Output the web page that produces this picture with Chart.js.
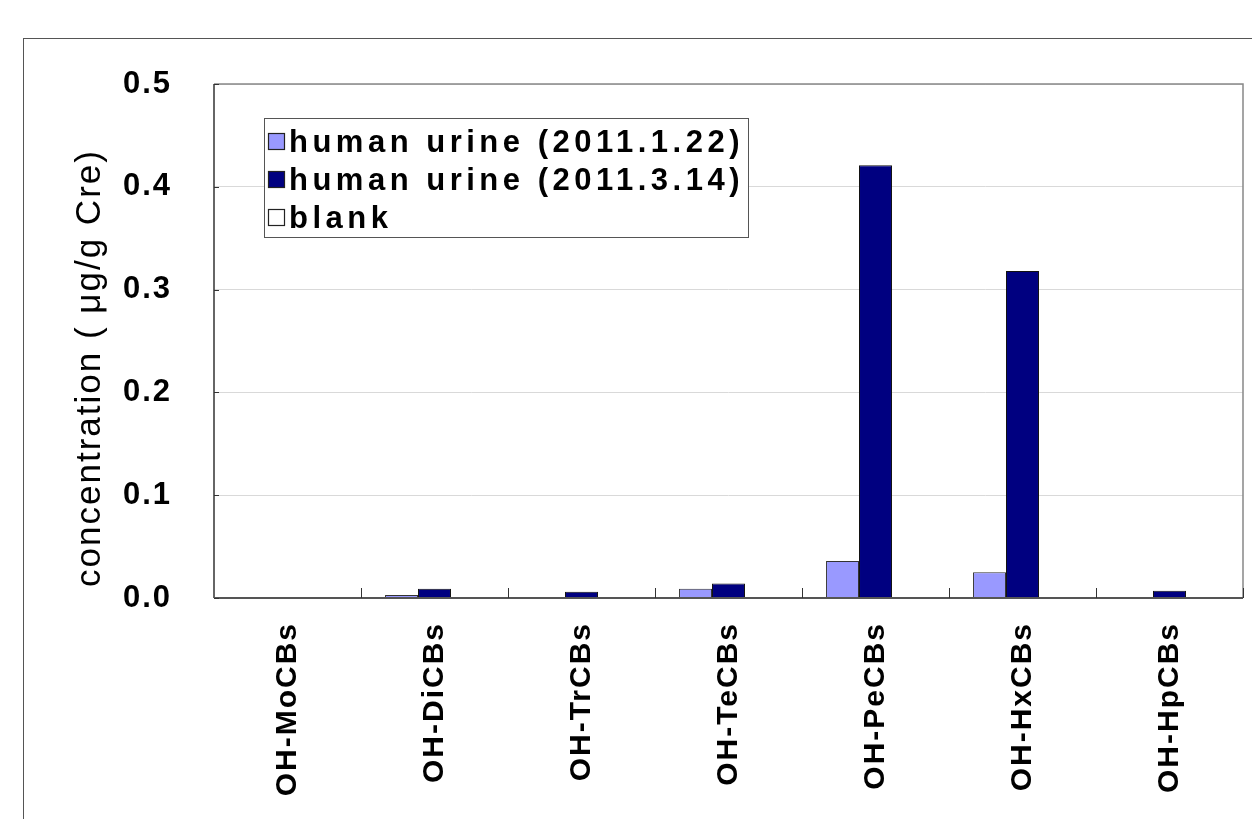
<!DOCTYPE html>
<html>
<head>
<meta charset="utf-8">
<script src="https://cdn.jsdelivr.net/npm/chart.js@4/dist/chart.umd.min.js"></script>
<style>
  html, body { margin: 0; padding: 0; background: #fff; }
  canvas { display: block; }
</style>
</head>
<body>
<canvas id="urineChart" width="1252" height="819"></canvas>
<script>
/*----------------------------------------------------------------*/
const categories = ['OH-MoCBs', 'OH-DiCBs', 'OH-TrCBs', 'OH-TeCBs', 'OH-PeCBs', 'OH-HxCBs', 'OH-HpCBs'];
const urineJan = [0, 0.003, 0, 0.009, 0.036, 0.025, 0];
const urineMar = [0, 0.009, 0.006, 0.014, 0.421, 0.318, 0.007];
const blank = [0, 0, 0, 0, 0, 0, 0];
const seriesLabels = ['human urine (2011.1.22)', 'human urine (2011.3.14)', 'blank'];
const yTicks = [0, 0.1, 0.2, 0.3, 0.4, 0.5];
const yTitle = 'concentration ( μg/g Cre)';

const FONT = '"Liberation Sans", Arial, sans-serif';

/*----------------------------------------------------------------*/
// frame, plot borders, inner tick marks, y title and the boxed legend
const frameAndLegend = {
    id: 'frameAndLegend',
    beforeDraw(chart) {
        // wider spacing for the tick labels drawn by the scales
        chart.ctx.letterSpacing = '2px';
    },
    afterDraw(chart) {
        const { ctx, chartArea: a, scales } = chart;
        ctx.save();

        // outer frame
        ctx.strokeStyle = '#555';
        ctx.lineWidth = 1;
        ctx.strokeRect(23.5, 38.5, 1400, 1000);

        // top and right border
        ctx.strokeStyle = '#888';
        ctx.lineWidth = 1.5;
        ctx.beginPath();
        ctx.moveTo(a.left, a.top);
        ctx.lineTo(a.right, a.top);
        ctx.lineTo(a.right, a.bottom);
        ctx.stroke();

        // axes
        ctx.strokeStyle = '#333';
        ctx.lineWidth = 1.5;
        ctx.beginPath();
        ctx.moveTo(a.left, a.top);
        ctx.lineTo(a.left, a.bottom);
        ctx.stroke();
        ctx.strokeStyle = '#555';
        ctx.lineWidth = 2;
        ctx.beginPath();
        ctx.moveTo(a.left, a.bottom);
        ctx.lineTo(a.right, a.bottom);
        ctx.stroke();

        // inner ticks
        ctx.strokeStyle = '#333';
        ctx.lineWidth = 1;
        const n = categories.length;
        const w = (a.right - a.left) / n;
        for (let i = 1; i <= n; i++) {
            const x = Math.round(a.left + i * w) + 0.5;
            ctx.beginPath();
            ctx.moveTo(x, a.bottom);
            ctx.lineTo(x, a.bottom - 10);
            ctx.stroke();
        }
        yTicks.forEach(v => {
            const y = Math.round(scales.y.getPixelForValue(v)) + 0.5;
            ctx.beginPath();
            ctx.moveTo(a.left, y);
            ctx.lineTo(a.left + 5, y);
            ctx.stroke();
        });

        // y title
        ctx.save();
        ctx.translate(90, 368);
        ctx.rotate(-Math.PI / 2);
        ctx.font = '35px ' + FONT;
        ctx.letterSpacing = '2px';
        ctx.fillStyle = '#000';
        ctx.textAlign = 'center';
        ctx.textBaseline = 'middle';
        ctx.fillText(yTitle, 0, 0);
        ctx.restore();

        // legend
        const lx = 264, ly = 118, lw = 484, lh = 119;
        ctx.fillStyle = '#fff';
        ctx.fillRect(lx, ly, lw, lh);
        ctx.strokeStyle = '#555';
        ctx.lineWidth = 1;
        ctx.strokeRect(lx + 0.5, ly + 0.5, lw, lh);
        ctx.font = 'bold 31px ' + FONT;
        ctx.letterSpacing = '4.5px';
        ctx.textBaseline = 'middle';
        chart.data.datasets.forEach((ds, i) => {
            const cy = ly + 24 + i * 38;
            ctx.fillStyle = ds.backgroundColor;
            ctx.fillRect(268, cy - 9, 17, 17);
            ctx.strokeStyle = '#222';
            ctx.lineWidth = 1.2;
            ctx.strokeRect(268.5, cy - 8.5, 16, 16);
            ctx.fillStyle = '#000';
            ctx.fillText(ds.label, 289, cy + 1);
        });
        ctx.restore();
    }
};

/*----------------------------------------------------------------*/
new Chart(document.getElementById('urineChart'), {
    type: 'bar',
    data: {
        labels: categories,
        datasets: [
            { label: seriesLabels[0], data: urineJan, backgroundColor: '#9999ff', borderColor: '#333', borderWidth: 1 },
            { label: seriesLabels[1], data: urineMar, backgroundColor: '#000080', borderColor: '#111', borderWidth: 1 },
            { label: seriesLabels[2], data: blank, backgroundColor: '#ffffff', borderColor: '#111', borderWidth: 1 }
        ]
    },
    options: {
        responsive: false,
        animation: false,
        categoryPercentage: 0.673,
        barPercentage: 1,
        layout: {
            padding: { left: 0, top: 84, right: 9, bottom: 0 }
        },
        plugins: {
            legend: { display: false },
            tooltip: { enabled: false }
        },
        scales: {
            x: {
                grid: { display: false },
                border: { display: false },
                ticks: {
                    color: '#000',
                    minRotation: 90,
                    maxRotation: 90,
                    padding: 16,
                    font: { family: FONT, size: 30, weight: 'bold' }
                },
                afterFit: s => { s.height = 221; }
            },
            y: {
                min: 0,
                max: 0.5,
                grid: { color: '#d9d9d9', drawTicks: false },
                border: { display: false },
                ticks: {
                    stepSize: 0.1,
                    color: '#000',
                    padding: 42,
                    font: { family: FONT, size: 31, weight: 'bold' },
                    callback: v => Number(v).toFixed(1)
                },
                afterFit: s => { s.width = 214; }
            }
        }
    },
    plugins: [frameAndLegend]
});
</script>
</body>
</html>
